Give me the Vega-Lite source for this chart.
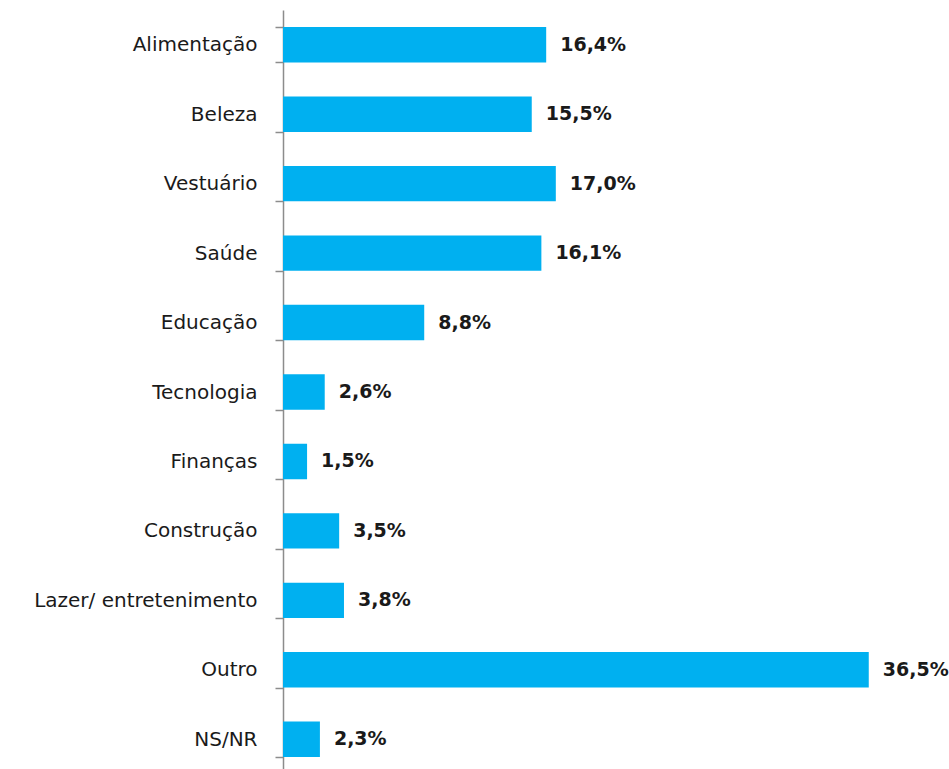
{
  "$schema": "https://vega.github.io/schema/vega-lite/v6.json",
  "autosize": "none",
  "width": 666,
  "height": 764,
  "padding": {"left": 283, "top": 10, "right": 0, "bottom": 0},
  "background": "white",
  "config": {"view": {"stroke": null}},
  "data": {"values": [
    {"categoria": "Alimentação", "valor": 16.4, "rotulo": "16,4%"},
    {"categoria": "Beleza", "valor": 15.5, "rotulo": "15,5%"},
    {"categoria": "Vestuário", "valor": 17.0, "rotulo": "17,0%"},
    {"categoria": "Saúde", "valor": 16.1, "rotulo": "16,1%"},
    {"categoria": "Educação", "valor": 8.8, "rotulo": "8,8%"},
    {"categoria": "Tecnologia", "valor": 2.6, "rotulo": "2,6%"},
    {"categoria": "Finanças", "valor": 1.5, "rotulo": "1,5%"},
    {"categoria": "Construção", "valor": 3.5, "rotulo": "3,5%"},
    {"categoria": "Lazer/ entretenimento", "valor": 3.8, "rotulo": "3,8%"},
    {"categoria": "Outro", "valor": 36.5, "rotulo": "36,5%"},
    {"categoria": "NS/NR", "valor": 2.3, "rotulo": "2,3%"}
  ]},
  "encoding": {
    "y": {
      "field": "categoria", "type": "nominal", "sort": null,
      "scale": {"paddingInner": 0.49, "paddingOuter": 0.245},
      "axis": {
        "title": null, "tickBand": "extent", "tickSize": 8, "tickColor": "#8c8c8c",
        "domainColor": "#8c8c8c", "domainWidth": 1.5, "tickWidth": 1.5,
        "labelPadding": 18, "labelFont": "DejaVu Sans", "labelFontSize": 20,
        "labelColor": "#1a1a1a", "labelLimit": 400
      }
    },
    "x": {
      "field": "valor", "type": "quantitative",
      "scale": {"domain": [0, 41.5]},
      "axis": null
    }
  },
  "layer": [
    {"mark": {"type": "bar", "color": "#00B0F0"}},
    {
      "mark": {"type": "text", "align": "left", "dx": 14, "font": "DejaVu Sans", "fontSize": 19, "fontWeight": "bold", "color": "#1a1a1a"},
      "encoding": {"text": {"field": "rotulo"}}
    }
  ]
}
